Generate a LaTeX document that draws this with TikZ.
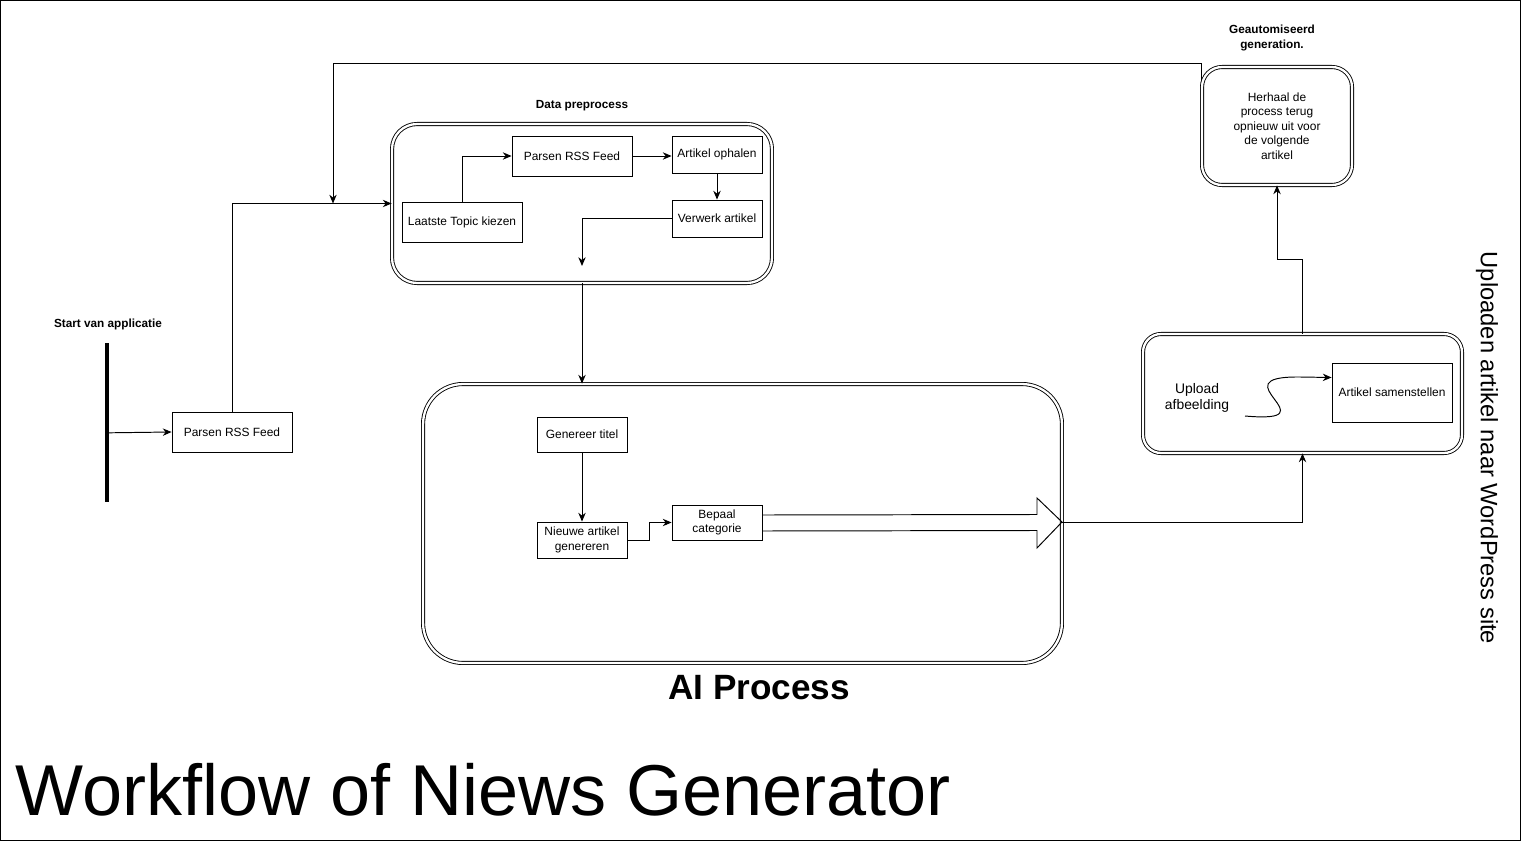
\documentclass[tikz,border=0pt]{standalone}
\usepackage{fontspec}
\setmainfont{Liberation Sans}
\usetikzlibrary{positioning,calc,arrows.meta}

\begin{document}
\begin{tikzpicture}[
  x=0.02cm, y=-0.02cm,
  line width=0.55pt,
  procbox/.style={rectangle, draw, line width=0.5pt, minimum width=2.4cm, minimum height=0.8cm,
    inner sep=1pt, align=center, font=\fontsize{6.8}{8.2}\selectfont},
  groupbox/.style={rectangle, draw, double, line width=0.5pt, double distance=1.3pt,
    rounded corners=#1, inner sep=0pt},
  groupbox/.default=0.5cm,
  grouplbl/.style={font=\bfseries\fontsize{6.7}{8.4}\selectfont, align=center},
  arr/.style={-{Stealth[length=5pt,width=4.2pt]}, line width=0.55pt}
]
\useasboundingbox (0,0) rectangle (1521,841);
\draw (0.5,0.5) rectangle (1520.5,840.5);

% Start
\draw[line width=2.4pt] (107,343) -- (107,502) coordinate[pos=0.565] (startpt);
\node[grouplbl] (startlbl) at (108,324) {Start van applicatie};
\node[procbox] (p1) at (232,432) {Parsen RSS Feed};

% Data preprocess
\node[groupbox] (prep) at (582,203.5) [minimum width=7.6cm, minimum height=3.18cm] {};
\node[grouplbl] (preplbl) at (582,106) {Data preprocess};
\node[procbox] (topic) at (462,222) {Laatste Topic kiezen};
\node[procbox] (parse) at (572,156) {Parsen RSS Feed};
\node[procbox, minimum width=1.8cm, minimum height=0.74cm] (ophalen) at (717,154.5) {Artikel ophalen};
\node[procbox, minimum width=1.8cm, minimum height=0.74cm] (verwerk) at (717,218.5) {Verwerk artikel};
\coordinate (dropend) at (582,266);

% AI process
\node[groupbox=0.8cm] (ai) at (742.5,523.5) [minimum width=12.78cm, minimum height=5.58cm] {};
\node[font=\bfseries\fontsize{20}{24}\selectfont] (ailbl) at (759,688) {AI Process};
\node[procbox, minimum width=1.8cm, minimum height=0.7cm] (titel) at (582,434.5) {Genereer titel};
\node[procbox, minimum width=1.8cm, minimum height=0.72cm] (nieuw) at (582,540) {Nieuwe artikel\\genereren};
\node[procbox, minimum width=1.8cm, minimum height=0.7cm] (categorie) at (717,522.5) {Bepaal\\categorie};
\coordinate (aitip) at (1062,522);

% Upload
\node[groupbox=0.36cm] (upload) at (1302.5,393.5) [minimum width=6.38cm, minimum height=2.38cm] {};
\node[align=center, font=\fontsize{7.9}{9}\selectfont] (upl) at (1197,398) {Upload\\afbeelding};
\node[procbox, minimum height=1.18cm] (samen) at (1392,392.5) {Artikel samenstellen};
\coordinate (curvestart) at (1245,416);

% Geautomiseerd generation
\node[groupbox=0.4cm] (herhaal) at (1277,126) [minimum width=3cm, minimum height=2.36cm,
  align=center, font=\fontsize{6.8}{8.2}\selectfont] {Herhaal de\\process terug\\opnieuw uit voor\\de volgende\\artikel};
\node[grouplbl] (herhaallbl) at (1272,38) {Geautomiseerd\\generation.};
\coordinate (loopcorner) at (333,63);

% Labels
\node[rotate=-90, font=\fontsize{13.5}{16}\selectfont] (wplbl) at (1487,448) {Uploaden artikel naar WordPress site};
\node[anchor=base west, font=\fontsize{41}{48}\selectfont, inner sep=0pt] (title) at (15,815) {Workflow of Niews Generator};

% Arrows: start -> data preprocess
\draw[arr] (startpt) -- (p1.west);
\draw[arr] (p1.north) |- (prep.west);
\draw[arr] (topic.north) |- (parse.west);
\draw[arr] (parse.east) -- (parse.east -| ophalen.west);
\draw[arr] (ophalen.south) -- (verwerk.north);
\draw[arr] (verwerk.west) -| (dropend);

% Arrows: data preprocess -> AI process
\draw[arr] (prep.south) -- (ai.north -| prep.south);
\draw[arr] (titel.south) -- (nieuw.north);
\draw[arr] (nieuw.east) -- ++(22,0) |- (categorie.west);

% Hollow arrow to the edge of AI process
\draw ([yshift=0.15cm]categorie.east) -- (1037,514.5) -- (1037,498) -- (aitip)
  -- (1037,548) -- (1037,530.5) -- ([yshift=-0.17cm]categorie.east);

% Arrows: AI process -> upload -> repeat
\draw[arr] (aitip) -| (upload.south);
\draw[arr] (curvestart) .. controls (1335,424) and (1215,376) .. (1300,377)
  -- ([yshift=0.3cm]samen.west);
\draw[arr] (upload.north) -- ++(0,-74) -| (herhaal.south);
\draw[arr] ([yshift=-0.26cm]herhaal.north west) |- (loopcorner) -- (loopcorner |- prep.west);

\end{tikzpicture}
\end{document}
